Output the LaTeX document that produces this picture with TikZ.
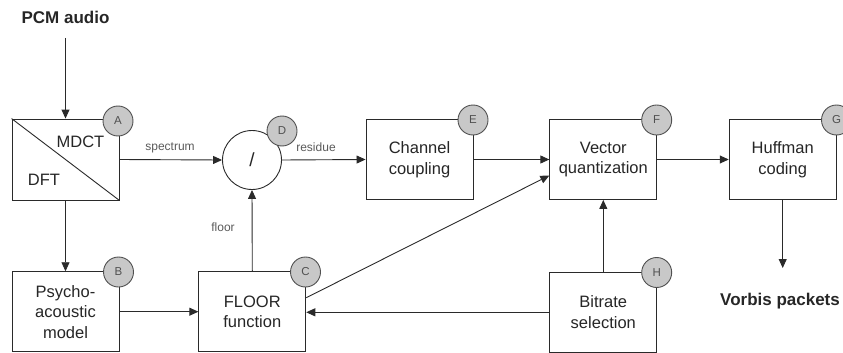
\documentclass[tikz,border=0pt]{standalone}
\usepackage{fontspec}
\setmainfont{Liberation Sans}
\usetikzlibrary{arrows.meta}

\definecolor{linecol}{HTML}{2A2A2A}
\definecolor{txtcol}{HTML}{262626}
\definecolor{labcol}{HTML}{5A5A5A}
\definecolor{badgefill}{HTML}{C8C8C8}
\definecolor{badgeline}{HTML}{505050}

\tikzset{
  blockbox/.style={draw=linecol, line width=0.9pt, fill=white, minimum width=107pt,
    minimum height=80pt, align=center, inner sep=0pt, text=txtcol,
    font=\fontsize{16.5}{20.5}\selectfont},
  badge/.style={circle, draw=badgeline, line width=0.9pt, fill=badgefill, minimum size=30pt,
    inner sep=0pt, text=badgeline, font=\fontsize{11.5}{12}\selectfont},
  flow/.style={draw=linecol, line width=0.9pt, -{Triangle[length=9pt,width=8pt]}},
  edgelabel/.style={text=labcol, font=\fontsize{12}{14}\selectfont},
  iolabel/.style={text=txtcol, font=\fontsize{17}{20}\selectfont\bfseries},
}

\begin{document}
\begin{tikzpicture}[x=1pt, y=-1pt]
\useasboundingbox (0,0) rectangle (843,353);
\clip (0,0) rectangle (843,353);

% input / output labels
\node[iolabel] (pcm) at (65.5,17) {PCM audio};
\coordinate (pcmend) at (65.5,38);
\node[iolabel] (vorbis) at (780,301) {Vorbis packets};
\coordinate (vorbisend) at (782.7,268);

% processing blocks
\node[blockbox, minimum height=81pt] (A) at (65.5,159.5) {};
\draw[linecol, line width=0.9pt] (A.north west) -- (A.south east);
\node[text=txtcol, font=\fontsize{16.5}{20}\selectfont] (mdct) at (80.5,142) {MDCT};
\node[text=txtcol, font=\fontsize{16.5}{20}\selectfont] (dft) at (44,180) {DFT};

\node[circle, draw=linecol, line width=0.9pt, fill=white, minimum size=59pt, inner sep=0pt,
  text=txtcol, font=\fontsize{19}{20}\selectfont] (D) at (252,160) {/};

\node[blockbox] (E) at (419.5,159.5) {Channel\\coupling};
\node[blockbox] (F) at (603.3,159.5) {Vector\\quantization};
\node[blockbox] (G) at (782.7,159.5) {Huffman\\coding};
\node[blockbox] (B) at (65.5,311.7) {Psycho-\\acoustic\\model};
\node[blockbox] (C) at (252.3,311.7) {FLOOR\\function};
\node[blockbox] (H) at (603.3,312.3) {Bitrate\\selection};

% connectors
\draw[flow] (pcmend) -- (A.north);
\draw[flow] (A.east) -- (D.west);
\node[edgelabel] (speclab) at (170,147.5) {spectrum};
\draw[flow] (D.east) -- (E.west);
\node[edgelabel] (reslab) at (316,147) {residue};
\draw[flow] (A.south) -- (B.north);
\draw[flow] (B.east) -- (C.west);
\draw[flow] (C.north) -- (D.south);
\node[edgelabel] (floorlab) at (223,227) {floor};
\draw[flow] (E.east) -- (F.west);
\draw[flow] (F.east) -- (G.west);
\draw[flow] (G.south) -- (vorbisend);
\draw[flow] (H.north) -- (F.south);
\draw[flow] (H.west) -- (H.west -| C.east);
\draw[flow] ([yshift=14pt]C.east) -- ([yshift=-16pt]F.west);

% block badges
\node[badge] (bA) at (118,121) {A};
\node[badge] (bB) at (118.5,272) {B};
\node[badge] (bC) at (305.5,272) {C};
\node[badge] (bD) at (282,131) {D};
\node[badge] (bE) at (473,120) {E};
\node[badge] (bF) at (656.7,120) {F};
\node[badge] (bG) at (836.5,120) {G};
\node[badge] (bH) at (656.7,272.5) {H};
\end{tikzpicture}
\end{document}
